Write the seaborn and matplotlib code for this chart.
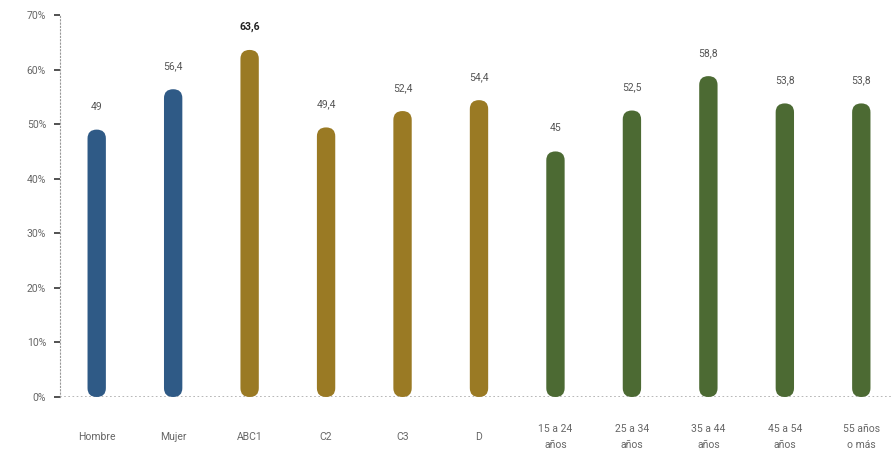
import matplotlib
matplotlib.use("Agg")
import matplotlib.pyplot as plt
from matplotlib.patches import FancyBboxPatch
import pandas as pd
import seaborn as sns

categorias = ["Hombre", "Mujer", "ABC1", "C2", "C3", "D",
              "15 a 24\naños", "25 a 34\naños", "35 a 44\naños",
              "45 a 54\naños", "55 años\no más"]
valores = [49, 56.4, 63.6, 49.4, 52.4, 54.4, 45, 52.5, 58.8, 53.8, 53.8]
grupos = ["sexo", "sexo", "gse", "gse", "gse", "gse",
          "edad", "edad", "edad", "edad", "edad"]
COLORES = {"sexo": "#2f5a86", "gse": "#9a7a24", "edad": "#4c6a33"}

df = pd.DataFrame({"cat": categorias, "valor": valores, "grupo": grupos})

sns.set_style("white")
plt.rcParams["font.family"] = ["Roboto", "DejaVu Sans"]

fig = plt.figure(figsize=(8.92, 4.57), dpi=100)
ax = fig.add_axes([60 / 892, 60 / 457, 838 / 892, 382 / 457])

sns.barplot(data=df, x="cat", y="valor", hue="grupo", palette=COLORES,
            width=0.24, dodge=False, legend=False, saturation=1, ax=ax)

# barras con esquinas redondeadas
for p in list(ax.patches):
    x, y = p.get_x(), p.get_y()
    w, h = p.get_width(), p.get_height()
    if h <= 0:
        p.remove()
        continue
    rb = FancyBboxPatch((x, y), w, h,
                        boxstyle=f"round,pad=0,rounding_size={w / 2}",
                        mutation_aspect=13.5, facecolor=p.get_facecolor(),
                        edgecolor="none")
    p.remove()
    ax.add_patch(rb)

for i, v in enumerate(valores):
    txt = f"{v:g}".replace(".", ",")
    destacado = v == max(valores)
    ax.annotate(txt, (i, v), xytext=(0, 13), textcoords="offset points",
                ha="center", va="bottom", fontsize=7.5,
                color="#222222" if destacado else "#555555",
                fontweight="bold" if destacado else "normal")

ax.set_xlim(-0.48, len(categorias) - 0.52)
ax.set_ylim(0, 70)
ax.set_yticks(range(0, 71, 10))
ax.set_yticklabels([f"{t}%" for t in range(0, 71, 10)])
ax.set_xlabel("")
ax.set_ylabel("")

for s in ["top", "right", "bottom"]:
    ax.spines[s].set_visible(False)
ax.spines["left"].set_linestyle((0, (1, 2)))
ax.spines["left"].set_color("#999999")
ax.spines["left"].set_linewidth(0.8)
ax.axhline(0, color="#aaaaaa", linestyle=(0, (1, 1.5)), linewidth=1.2, zorder=0)

ax.tick_params(axis="y", left=True, length=4, width=1.2, color="#333333",
               labelsize=7.5, labelcolor="#666666", pad=6)
ax.tick_params(axis="x", bottom=False, length=0, labelsize=7.5,
               labelcolor="#666666", pad=29)
for lbl in ax.get_xticklabels():
    lbl.set_linespacing(1.75)
    lbl.set_verticalalignment("center")

fig.savefig("out.png", dpi=100)
